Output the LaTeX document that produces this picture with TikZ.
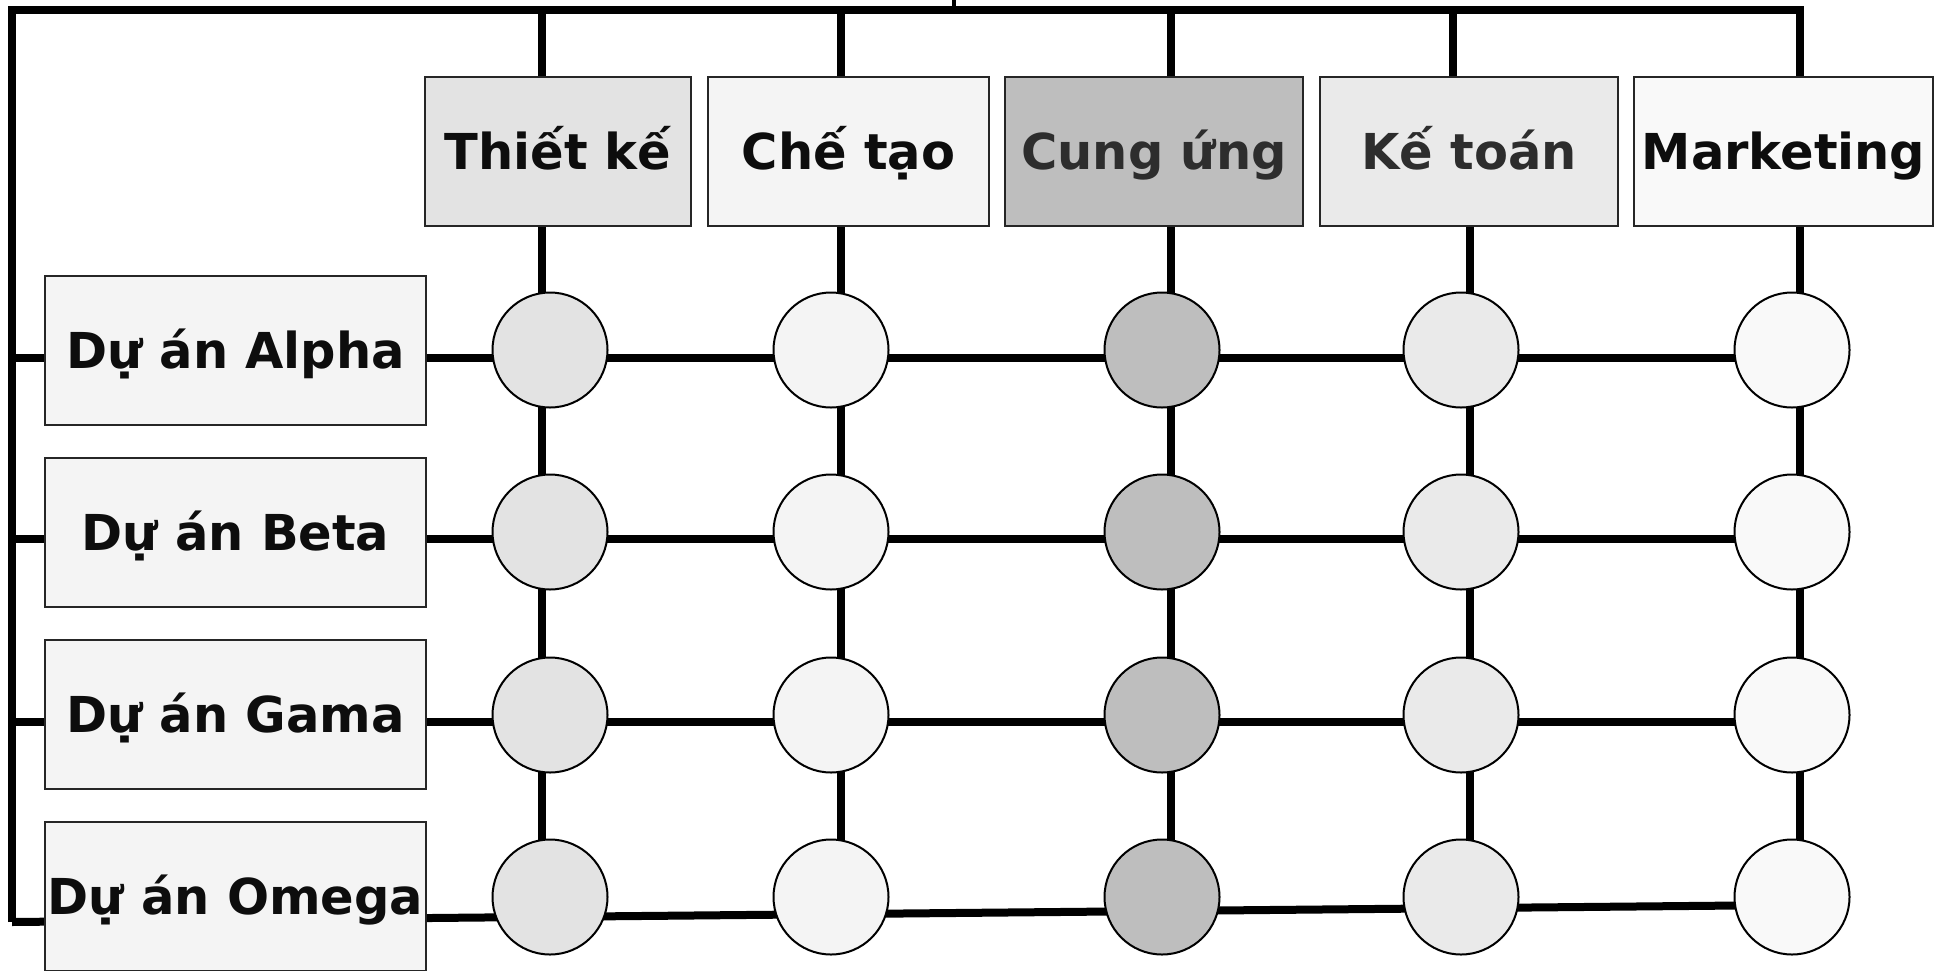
\documentclass[tikz,border=0pt]{standalone}
\usepackage{fontspec}
\setmainfont{DejaVu Sans}
\usetikzlibrary{backgrounds}
\definecolor{fillA}{HTML}{E3E3E3}
\definecolor{fillB}{HTML}{F4F4F4}
\definecolor{fillC}{HTML}{BEBEBE}
\definecolor{fillD}{HTML}{EAEAEA}
\definecolor{fillE}{HTML}{F9F9F9}
\definecolor{inkA}{HTML}{0D0D0D}
\definecolor{inkB}{HTML}{2D2D2D}
\begin{document}
\begin{tikzpicture}[x=1pt,y=-1pt,
  wire/.style={line width=8pt, black, line join=miter},
  head/.style={draw=black!85, line width=2pt, inner sep=0pt, minimum height=149pt,
    text height=36pt, text depth=0pt, text=inkA,
    font=\fontsize{49.5}{58}\selectfont\bfseries},
  cell/.style={circle, draw=black, line width=2pt, minimum size=115pt, inner sep=0pt}]
\useasboundingbox (0,0) rectangle (1939,970);

% department headers
\node[head, fill=fillA, minimum width=266pt] (tk) at (558,151.5) {Thiết kế};
\node[head, fill=fillB, minimum width=281pt] (ct) at (848.5,151.5) {Chế tạo};
\node[head, fill=fillC, minimum width=298pt, text=inkB] (cu) at (1154,151.5) {Cung ứng};
\node[head, fill=fillD, minimum width=298pt, text=inkB] (kt) at (1469,151.5) {Kế toán};
\node[head, fill=fillE, minimum width=299pt] (mk) at (1783.5,151.5) {Marketing};

% project rows
\node[head, fill=fillB, minimum width=381pt] (ra) at (235.5,350) {Dự án Alpha};
\node[head, fill=fillB, minimum width=381pt] (rb) at (235.5,532) {Dự án Beta};
\node[head, fill=fillB, minimum width=381pt] (rg) at (235.5,714.5) {Dự án Gama};
\node[head, fill=fillB, minimum width=381pt] (ro) at (235.5,896.5) {Dự án Omega};

% matrix cells
\foreach \c/\x/\f in {1/550/fillA, 2/831/fillB, 3/1162/fillC, 4/1461/fillD, 5/1792/fillE}
  \foreach \r/\y in {1/350, 2/532, 3/715, 4/897}
    \node[cell, fill=\f] (n\c\r) at (\x,\y) {};

% bus lines and connectors
\coordinate (corner) at (12,10);
\coordinate (bl) at (12,922);
\coordinate (tr) at (1800,10);
\coordinate (tick) at (954,0);
\coordinate (d1) at (542,10);
\coordinate (d2) at (841,10);
\coordinate (d3) at (1171,10);
\coordinate (d4) at (1453,10);
\coordinate (v1) at (542,0);
\coordinate (v2) at (841,0);
\coordinate (v3) at (1171,0);
\coordinate (v4) at (1470,0);
\coordinate (v5) at (1800,0);
\coordinate (h1) at (12,358);
\coordinate (h2) at (12,539);
\coordinate (h3) at (12,722);
\coordinate (h4) at (1792,905);

\begin{scope}[on background layer]
  \draw[line width=4pt] (tick) -- (tick |- corner);
  \draw[wire, line width=7.5pt] (bl) -- (corner) -- (tr) -- (tr |- mk.north);
  \foreach \d/\b in {d1/tk, d2/ct, d3/cu, d4/kt}
    \draw[wire] (\d) -- (\d |- \b.north);
  \foreach \v/\b/\c in {v1/tk/1, v2/ct/2, v3/cu/3, v4/kt/4, v5/mk/5}
    \draw[wire] (\v |- \b.south) -- (\v |- n\c4);
  \foreach \h in {h1, h2, h3}
    \draw[wire] (\h) -- (\h -| n51);
  \draw[wire] (bl) -- (h4);
\end{scope}
\end{tikzpicture}
\end{document}
